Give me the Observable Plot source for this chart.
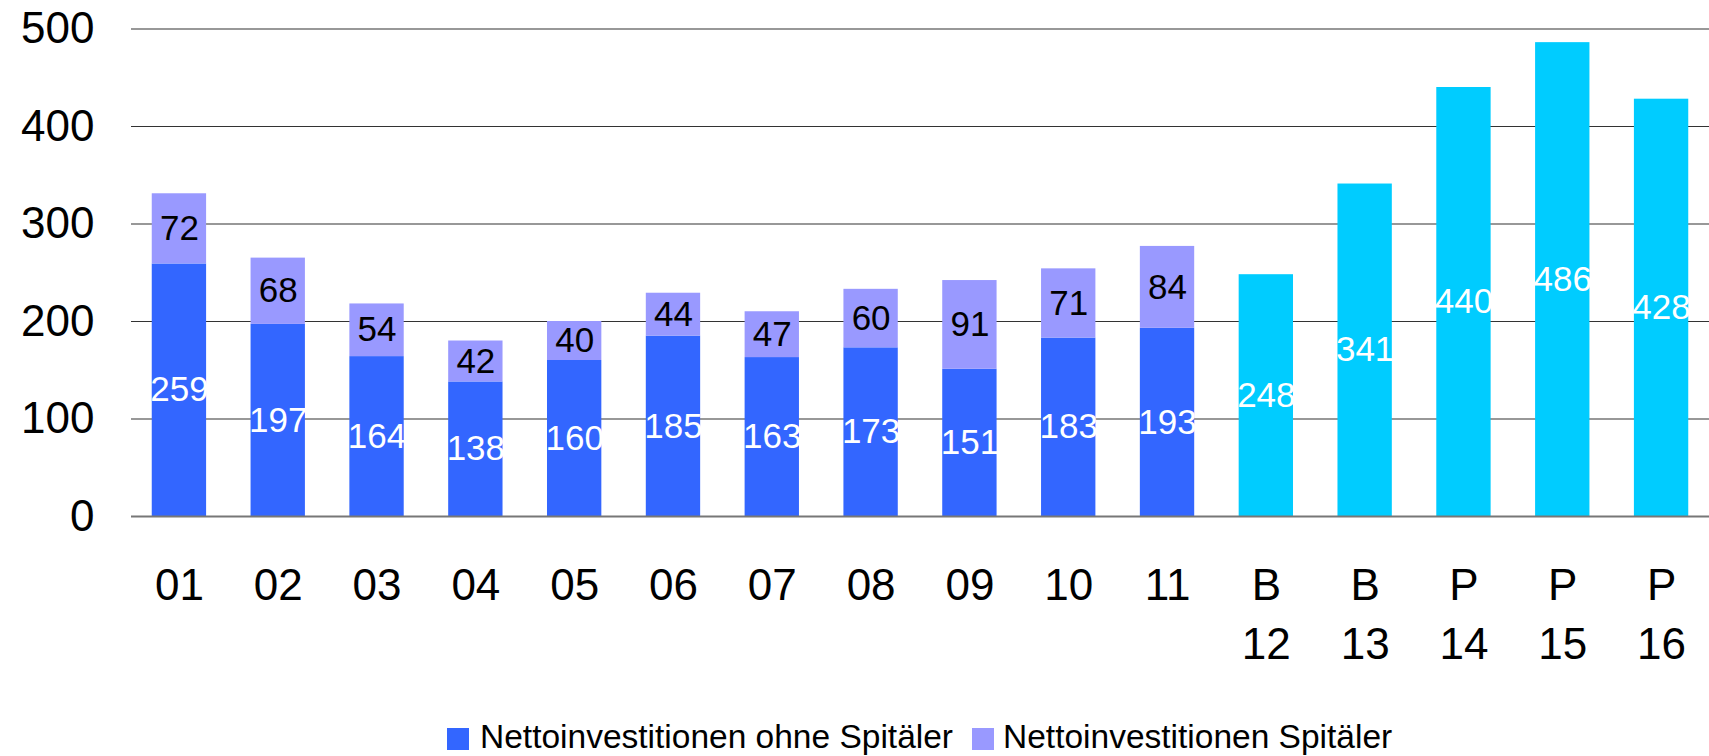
<!DOCTYPE html>
<html>
<head>
<meta charset="utf-8">
<script src="https://cdn.jsdelivr.net/npm/d3@7"></script>
<script src="https://cdn.jsdelivr.net/npm/@observablehq/plot@0.6"></script>
<style>
  html, body { margin: 0; padding: 0; background: #fff; }
  body { width: 1709px; height: 756px; overflow: hidden; font-family: "Liberation Sans", Arial, Helvetica, sans-serif; }
  #chart svg { display: block; }
  #legend { position: relative; width: 1709px; height: 56px; }
  #legend .sw { position: absolute; width: 22px; height: 22px; top: 28px; }
  #legend .lb { position: absolute; top: 20px; font-size: 33.5px; line-height: 34px; white-space: nowrap; color: #000; }
</style>
</head>
<body>
<div id="chart"></div>
<div id="legend"></div>
<script>
// ---- data ----
const years = ["01","02","03","04","05","06","07","08","09","10","11","12","13","14","15","16"];
const yearPrefix = ["","","","","","","","","","","","B","B","P","P","P"];
const ohneSpitaeler = [259,197,164,138,160,185,163,173,151,183,193,null,null,null,null,null];
const spitaeler     = [72,68,54,42,40,44,47,60,91,71,84,null,null,null,null,null];
const budgetPlan    = [null,null,null,null,null,null,null,null,null,null,null,248,341,440,486,428];
const seriesNames = ["Nettoinvestitionen ohne Spitäler", "Nettoinvestitionen Spitäler", "Budget/Plan"];
const seriesColors = ["#3366FF", "#9999FF", "#00CCFF"];
const legendNames = ["Nettoinvestitionen ohne Spitäler", "Nettoinvestitionen Spitäler"];
const yTicks = [0, 100, 200, 300, 400, 500];

// ---- table ----
const seriesValues = [ohneSpitaeler, spitaeler, budgetPlan];
const rows = [];
years.forEach((yr, i) => {
  seriesValues.forEach((vals, s) => {
    if (vals[i] != null) rows.push({year: yr, series: seriesNames[s], value: vals[i]});
  });
});

const FONT = "Liberation Sans, Arial, Helvetica, sans-serif";

const chart = Plot.plot({
  width: 1709,
  height: 700,
  marginLeft: 131,
  marginRight: 0,
  marginTop: 28.5,
  marginBottom: 184,
  style: {fontFamily: FONT, background: "#fff", color: "#000"},
  x: {domain: years, paddingInner: 0.45, paddingOuter: 0.21, align: 0.5, round: false, label: null},
  y: {domain: [0, 500], label: null},
  color: {domain: seriesNames, range: seriesColors},
  marks: [
    Plot.ruleY(yTicks.filter(d => d > 0), {stroke: "#333", strokeWidth: 1.1}),
    Plot.barY(rows, {x: "year", y: "value", fill: "series"}),
    Plot.ruleY([0], {stroke: "#777", strokeWidth: 2}),
    Plot.text(rows, Plot.stackY({
      x: "year", y: "value", z: "series",
      text: d => d.series !== seriesNames[1] ? String(d.value) : null,
      fill: "white", fontSize: 35
    })),
    Plot.text(rows, Plot.stackY({
      x: "year", y: "value", z: "series",
      text: d => d.series === seriesNames[1] ? String(d.value) : null,
      fill: "black", fontSize: 35
    })),
    Plot.axisY({ticks: yTicks, tickSize: 0, tickPadding: 37, fontSize: 44, fill: "#000", label: null}),
    Plot.axisX({
      tickSize: 0, tickPadding: 41.6, fontSize: 44, lineHeight: 1.34, fill: "#000", label: null,
      tickFormat: d => {
        const i = years.indexOf(d);
        return yearPrefix[i] ? yearPrefix[i] + "\n" + d : d;
      }
    })
  ]
});
document.getElementById("chart").appendChild(chart);

// ---- legend ----
const legend = document.getElementById("legend");
const legendLayout = [{sw: 447, lb: 480}, {sw: 972, lb: 1003}];
legendNames.forEach((name, i) => {
  const sw = document.createElement("div");
  sw.className = "sw";
  sw.style.left = legendLayout[i].sw + "px";
  sw.style.background = seriesColors[seriesNames.indexOf(name)];
  legend.appendChild(sw);
  const lb = document.createElement("div");
  lb.className = "lb";
  lb.style.left = legendLayout[i].lb + "px";
  lb.textContent = name;
  legend.appendChild(lb);
});
</script>
</body>
</html>
